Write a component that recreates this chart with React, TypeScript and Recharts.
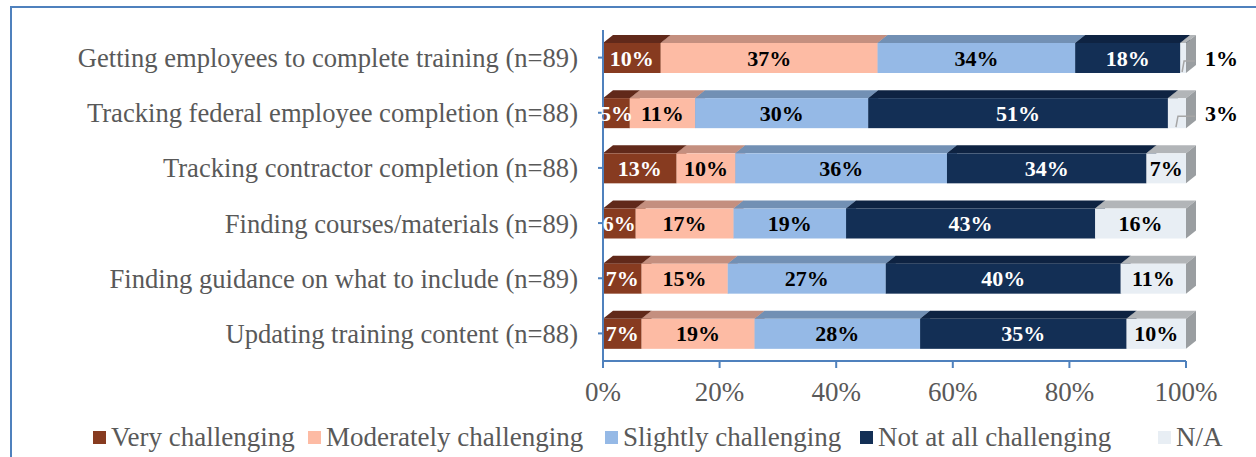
import React from "react";
import {
  BarChart,
  Bar,
  XAxis,
  YAxis,
  Legend,
  LabelList,
} from "recharts";

const categories = [
  "Getting employees to complete training (n=89)",
  "Tracking federal employee completion (n=88)",
  "Tracking contractor completion (n=88)",
  "Finding courses/materials (n=89)",
  "Finding guidance on what to include (n=89)",
  "Updating training content (n=88)",
];

// percent of respondents (labels show rounded values)
const veryChallenging = [9.9, 4.6, 12.6, 5.6, 6.6, 6.6];
const moderatelyChallenging = [37.2, 11.2, 10.1, 16.8, 14.8, 19.4];
const slightlyChallenging = [33.9, 29.7, 36.3, 19.3, 27.1, 28.4];
const notAtAllChallenging = [18.0, 51.4, 34.2, 42.7, 40.3, 35.4];
const notApplicable = [1.0, 3.1, 6.8, 15.6, 11.2, 10.2];

const xTicks = [0, 20, 40, 60, 80, 100];

const data = categories.map((name, i) => ({
  name,
  very: veryChallenging[i],
  moderate: moderatelyChallenging[i],
  slight: slightlyChallenging[i],
  notAtAll: notAtAllChallenging[i],
  na: notApplicable[i],
}));

const series = [
  { key: "very", label: "Very challenging", front: "#873B20", top: "#61291A", side: "#5a2515", text: "#ffffff" },
  { key: "moderate", label: "Moderately challenging", front: "#FDBBA4", top: "#C48F7F", side: "#b8857a", text: "#000000" },
  { key: "slight", label: "Slightly challenging", front: "#95B9E6", top: "#7290B4", side: "#6a86a8", text: "#000000" },
  { key: "notAtAll", label: "Not at all challenging", front: "#132F55", top: "#0E2342", side: "#0c1f3a", text: "#ffffff" },
  { key: "na", label: "N/A", front: "#E8EEF4", top: "#B2B5B8", side: "#9A9EA1", text: "#000000" },
];

const legendX = [93, 308, 605, 860, 1158];

const FONT = '"Liberation Serif", "Times New Roman", serif';
const AXIS = "#4F81BD";
const DX = 10;
const DY = 8;

const make3D = (front: string, top: string, side: string) => (props: any) => {
  const { x, y, width, height } = props;
  if (!width || width <= 0) return <g />;
  return (
    <g>
      <polygon
        points={`${x},${y} ${x + DX},${y - DY} ${x + width + DX},${y - DY} ${x + width},${y}`}
        fill={top}
      />
      <polygon
        points={`${x + width},${y} ${x + width + DX},${y - DY} ${x + width + DX},${y + height - DY} ${x + width},${y + height}`}
        fill={side}
      />
      <rect x={x} y={y} width={width} height={height} fill={front} />
    </g>
  );
};

const makeLabel = (color: string, outsideSmall: boolean) => (props: any) => {
  const { x, y, width, height, value } = props;
  const txt = `${Math.round(value)}%`;
  if (outsideSmall && value < 5) {
    const mx = x + width / 2;
    const my = y + height / 2;
    return (
      <g>
        <polyline
          points={`${mx - 1},${y + height - 1} ${mx + 1},${my + 3} ${x + width + DX - 1},${my + 3}`}
          fill="none"
          stroke="#A6A6A6"
          strokeWidth={1.5}
        />
        <text
          x={x + width + DX + 9}
          y={my}
          fill="#000"
          fontFamily={FONT}
          fontWeight="bold"
          fontSize={22}
          dominantBaseline="central"
        >
          {txt}
        </text>
      </g>
    );
  }
  return (
    <text
      x={x + width / 2}
      y={y + height / 2}
      fill={color}
      fontFamily={FONT}
      fontWeight="bold"
      fontSize={22}
      textAnchor="middle"
      dominantBaseline="central"
    >
      {txt}
    </text>
  );
};

const renderLegend = () => (
  <div style={{ position: "relative", width: 1256, height: 30, fontFamily: FONT }}>
    {series.map((s, i) => (
      <div
        key={s.key}
        style={{
          position: "absolute",
          left: legendX[i],
          top: 0,
          display: "flex",
          alignItems: "center",
          height: 30,
          whiteSpace: "nowrap",
        }}
      >
        <span style={{ width: 13, height: 13, background: s.front, marginRight: 5, display: "inline-block" }} />
        <span style={{ fontSize: 27, color: "#595959" }}>{s.label}</span>
      </div>
    ))}
  </div>
);

export default function App() {
  return (
    <div style={{ position: "absolute", left: 0, top: 0, width: 1256, height: 457, background: "#fff", overflow: "hidden" }}>
      <div
        style={{
          position: "absolute",
          left: 10,
          top: 6,
          width: 1256,
          height: 457,
          borderTop: `2px solid ${AXIS}`,
          borderLeft: `2px solid ${AXIS}`,
        }}
      />
      <BarChart
        width={1256}
        height={457}
        data={data}
        layout="vertical"
        margin={{ top: 30, right: 70, bottom: 66, left: 0 }}
        barCategoryGap={0}
        style={{ position: "absolute", left: 0, top: 0 }}
      >
        <XAxis
          type="number"
          domain={[0, 100]}
          ticks={xTicks}
          tickFormatter={(v) => `${v}%`}
          height={30}
          axisLine={{ stroke: AXIS, strokeWidth: 2 }}
          tickLine={{ stroke: AXIS, strokeWidth: 2 }}
          tickSize={7}
          tickMargin={14}
          tick={{ fill: "#595959", fontSize: 27, fontFamily: FONT }}
          interval={0}
        />
        <YAxis
          type="category"
          dataKey="name"
          width={603}
          axisLine={{ stroke: AXIS, strokeWidth: 2 }}
          tickLine={{ stroke: AXIS, strokeWidth: 2 }}
          tickSize={5}
          tickMargin={20}
          tick={{ fill: "#595959", fontSize: 26.6, fontFamily: FONT }}
          interval={0}
        />
        <Legend
          layout="horizontal"
          verticalAlign="middle"
          align="center"
          wrapperStyle={{ left: 0, top: 422, width: 1256 }}
          content={renderLegend}
        />
        {series.map((s) => (
          <Bar
            key={s.key}
            dataKey={s.key}
            stackId="a"
            barSize={30}
            isAnimationActive={false}
            shape={make3D(s.front, s.top, s.side)}
          >
            <LabelList dataKey={s.key} content={makeLabel(s.text, s.key === "na")} />
          </Bar>
        ))}
      </BarChart>
    </div>
  );
}
